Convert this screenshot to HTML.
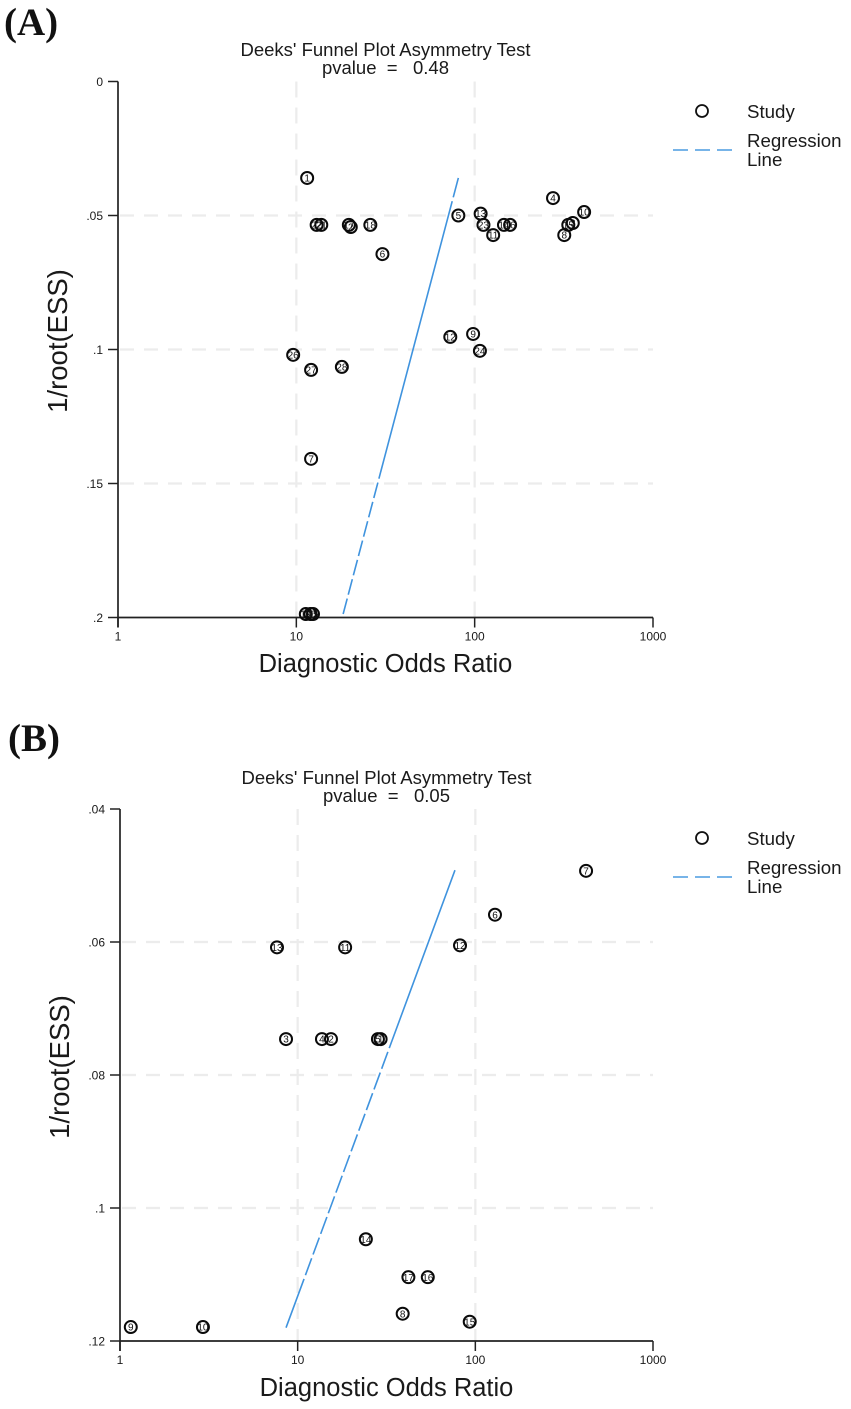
<!DOCTYPE html>
<html lang="en">
<head>
<meta charset="utf-8">
<title>Deeks' Funnel Plots</title>
<style>
html,body{margin:0;padding:0;background:#fff;width:851px;height:1409px;overflow:hidden}
svg{display:block}
text{font-family:"Liberation Sans",sans-serif;fill:#1a1a1a}
.panel{font-family:"Liberation Serif",serif;font-weight:bold;font-size:39px;fill:#111}
.title{font-size:18.5px;text-anchor:middle;white-space:pre}
.axt{font-size:25.5px;text-anchor:middle}
.ayt{font-size:27.5px;text-anchor:middle}
.leg{font-size:18.7px}
.tick{font-size:12px}
.pt{font-size:10px;text-anchor:middle;fill:#111}
</style>
</head>
<body>
<svg id="figure" xmlns="http://www.w3.org/2000/svg" width="851" height="1409" viewBox="0 0 851 1409">
  <rect width="851" height="1409" fill="#fff"/>

  <g id="panelA">
    <text class="panel" x="4" y="35">(A)</text>
    <text class="title" x="385.5" y="56">Deeks' Funnel Plot Asymmetry Test</text>
    <text class="title" x="385.5" y="74" xml:space="preserve">pvalue  =   0.48</text>
    <text class="axt" x="385.5" y="672">Diagnostic Odds Ratio</text>
    <text class="ayt" transform="translate(67,341) rotate(-90)" x="0" y="0">1/root(ESS)</text>
    <circle cx="702" cy="111" r="6" fill="none" stroke="#111" stroke-width="1.8"/>
    <text class="leg" x="747" y="118">Study</text>
    <line x1="673" y1="150" x2="732" y2="150" stroke="#4a9be0" stroke-width="1.6" stroke-dasharray="15 7"/>
    <text class="leg" x="747" y="147">Regression</text>
    <text class="leg" x="747" y="166">Line</text>
  </g>

  <g id="panelB">
    <text class="panel" x="8" y="751">(B)</text>
    <text class="title" x="386.5" y="784">Deeks' Funnel Plot Asymmetry Test</text>
    <text class="title" x="386.5" y="802" xml:space="preserve">pvalue  =   0.05</text>
    <text class="axt" x="386.5" y="1396">Diagnostic Odds Ratio</text>
    <text class="ayt" transform="translate(69,1067) rotate(-90)" x="0" y="0">1/root(ESS)</text>
    <circle cx="702" cy="838" r="6" fill="none" stroke="#111" stroke-width="1.8"/>
    <text class="leg" x="747" y="845">Study</text>
    <line x1="673" y1="877" x2="732" y2="877" stroke="#4a9be0" stroke-width="1.6" stroke-dasharray="15 7"/>
    <text class="leg" x="747" y="874">Regression</text>
    <text class="leg" x="747" y="893">Line</text>
  </g>
</svg>

<script>
// Panel A data
const xTicks = [1, 10, 100, 1000];
const xTickLabels = ["1", "10", "100", "1000"];
const aYTicks = [0, 0.05, 0.1, 0.15, 0.2];
const aYTickLabels = ["0", ".05", ".1", ".15", ".2"];
const aStudies = ["1","2","17","21","22","18","6","5","13","23","11","14","16","4","10","3","15","8","12","9","24","26","27","28","7","19","20","25"];
const aDor = [11.5,20.2,19.7,13.8,13,26,30.4,81,108,112,127,146,158,275,411,355,335,318,73,98,107,9.6,12.1,18,12.1,11.3,12,12.4];
const aInvEss = [0.036,0.0543,0.0535,0.0535,0.0535,0.0535,0.0644,0.05,0.0493,0.0535,0.0573,0.0535,0.0535,0.0435,0.0487,0.0528,0.0535,0.0573,0.0953,0.0942,0.1005,0.102,0.1076,0.1065,0.1408,0.1987,0.1987,0.1987];
const aLineDor = [18.3, 81];
const aLineInvEss = [0.1987, 0.036];

// Panel B data
const bYTicks = [0.04, 0.06, 0.08, 0.1, 0.12];
const bYTickLabels = [".04", ".06", ".08", ".1", ".12"];
const bStudies = ["13","11","12","6","7","3","4","2","5","1","14","17","16","8","15","9","10"];
const bDor = [7.65,18.5,82,129,420,8.6,13.7,15.4,28.3,29.3,24.2,42,54,39,93,1.15,2.93];
const bInvEss = [0.0608,0.0608,0.0605,0.0559,0.0493,0.0746,0.0746,0.0746,0.0746,0.0746,0.1047,0.1104,0.1104,0.1159,0.1171,0.1179,0.1179];
const bLineDor = [8.6, 76.8];
const bLineInvEss = [0.118, 0.0492];

const NS = "http://www.w3.org/2000/svg";
function mk(parent, tag, attrs, txt) {
  const el = document.createElementNS(NS, tag);
  for (const k in attrs) el.setAttribute(k, attrs[k]);
  if (txt !== undefined) el.textContent = txt;
  parent.appendChild(el);
  return el;
}

function drawPlot(opts) {
  const g = opts.group;
  const x = v => opts.left + Math.log10(v) * (opts.right - opts.left) / 3;
  const y = v => opts.top + (v - opts.yMin) * (opts.bottom - opts.top) / (opts.yMax - opts.yMin);

  // gridlines
  opts.yTicks.slice(1, -1).forEach(t => {
    const l = mk(g, "line", {x1: opts.left + 2, x2: opts.right, y1: y(t), y2: y(t), stroke: "#ececec", "stroke-width": 2.2, "stroke-dasharray": "14 10"});
    
    
  });
  xTicks.slice(1, -1).forEach(t => {
    const l = mk(g, "line", {x1: x(t), x2: x(t), y1: opts.top, y2: opts.bottom, stroke: "#ececec", "stroke-width": 2.2, "stroke-dasharray": "16 10"});
    
    
  });

  // axes
  const ax = mk(g, "line", {x1: opts.left, x2: opts.left, y1: opts.top, y2: opts.bottom + 10, stroke: "#222", "stroke-width": 1.7});
  
  
  const bx = mk(g, "line", {x1: opts.left, x2: opts.right, y1: opts.bottom, y2: opts.bottom, stroke: "#222", "stroke-width": 1.7});
  
  

  // y ticks
  opts.yTicks.forEach((t, i) => {
    const tk = mk(g, "line", {x1: opts.left - 10, x2: opts.left, y1: y(t), y2: y(t), stroke: "#222", "stroke-width": 1.5});
    
    
    const lb = mk(g, "text", {class: "tick", x: opts.left - 15, y: y(t) + 4.3, "text-anchor": "end"}, opts.yTickLabels[i]);
    
    
  });

  // x ticks
  xTicks.forEach((t, i) => {
    const tk = mk(g, "line", {x1: x(t), x2: x(t), y1: opts.bottom, y2: opts.bottom + 10, stroke: "#222", "stroke-width": 1.5});
    
    
    const lb = mk(g, "text", {class: "tick", x: x(t), y: opts.bottom + 23, "text-anchor": "middle"}, xTickLabels[i]);
    
    
  });

  // regression line
  const rl = mk(g, "line", {
    x1: x(opts.lineX[0]), y1: y(opts.lineY[0]),
    x2: x(opts.lineX[1]), y2: y(opts.lineY[1]),
    stroke: "#3f93de", "stroke-width": 1.6, "stroke-dasharray": opts.dash
  });
  
  

  // studies
  opts.labels.forEach((s, i) => {
    const c = mk(g, "circle", {cx: x(opts.xs[i]), cy: y(opts.ys[i]), r: 6, fill: "none", stroke: "#0a0a0a", "stroke-width": 2});
    
    
    const t = mk(g, "text", {class: "pt", x: x(opts.xs[i]), y: y(opts.ys[i]) + 3.6}, s);
    
    
  });
}

drawPlot({
  group: document.getElementById("panelA"),
  left: 118, right: 653, top: 81.5, bottom: 617.5,
  yMin: 0, yMax: 0.2,
  yTicks: aYTicks, yTickLabels: aYTickLabels,
  labels: aStudies, xs: aDor, ys: aInvEss,
  lineX: aLineDor, lineY: aLineInvEss,
  dash: "16 4 16 4 16 4 16 4 16 4 16 4 16 4 287 4 30"
});

drawPlot({
  group: document.getElementById("panelB"),
  left: 120, right: 653, top: 809, bottom: 1341,
  yMin: 0.04, yMax: 0.12,
  yTicks: bYTicks, yTickLabels: bYTickLabels,
  labels: bStudies, xs: bDor, ys: bInvEss,
  lineX: bLineDor, lineY: bLineInvEss,
  dash: "52 4 18 4 18 4 18 4 18 4 18 4 18 4 18 4 18 4 18 4 18 4 18 4 300"
});
</script>
</body>
</html>
